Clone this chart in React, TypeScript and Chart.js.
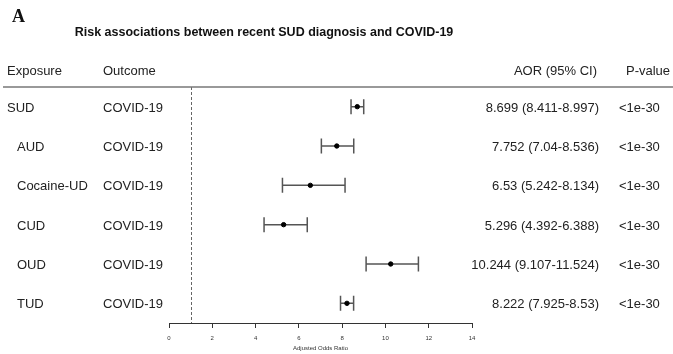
import React, { useEffect, useRef } from 'react';
import { Chart, registerables } from 'chart.js';

Chart.register(...registerables);

const exposures = ['SUD', 'AUD', 'Cocaine-UD', 'CUD', 'OUD', 'TUD'];
const indented = [false, true, true, true, true, true];
const outcomes = ['COVID-19', 'COVID-19', 'COVID-19', 'COVID-19', 'COVID-19', 'COVID-19'];
const aor = [8.699, 7.752, 6.53, 5.296, 10.244, 8.222];
const lower = [8.411, 7.04, 5.242, 4.392, 9.107, 7.925];
const upper = [8.997, 8.536, 8.134, 6.388, 11.524, 8.53];
const aorText = [
  '8.699 (8.411-8.997)',
  '7.752 (7.04-8.536)',
  '6.53 (5.242-8.134)',
  '5.296 (4.392-6.388)',
  '10.244 (9.107-11.524)',
  '8.222 (7.925-8.53)',
];
const pValues = ['<1e-30', '<1e-30', '<1e-30', '<1e-30', '<1e-30', '<1e-30'];
const xMin = 0;
const xMax = 14;
const xStep = 2;
const nullValue = 1;
const chartTitle = 'Risk associations between recent SUD diagnosis and COVID-19';
const panelLabel = 'A';
const headers = { exposure: 'Exposure', outcome: 'Outcome', aor: 'AOR (95% CI)', p: 'P-value' };
const xTitle = 'Adjusted Odds Ratio';

const FONT = '"Liberation Sans", Arial, Helvetica, sans-serif';

const forestPlugin = {
  id: 'forest',
  beforeDatasetsDraw(chart: any) {
    const { ctx, chartArea, scales } = chart;
    const xs = scales.x;
    const ys = scales.y;
    ctx.save();
    const nx = Math.round(xs.getPixelForValue(nullValue)) + 0.5;
    ctx.strokeStyle = '#666';
    ctx.lineWidth = 1;
    ctx.setLineDash([3, 2]);
    ctx.beginPath();
    ctx.moveTo(nx, chartArea.top);
    ctx.lineTo(nx, chartArea.bottom);
    ctx.stroke();
    ctx.setLineDash([]);
    ctx.strokeStyle = '#555';
    ctx.lineWidth = 1.5;
    for (let i = 0; i < aor.length; i++) {
      const y = ys.getPixelForValue(i + 1);
      const x1 = xs.getPixelForValue(lower[i]);
      const x2 = xs.getPixelForValue(upper[i]);
      ctx.beginPath();
      ctx.moveTo(x1, y);
      ctx.lineTo(x2, y);
      ctx.moveTo(x1, y - 7.5);
      ctx.lineTo(x1, y + 7.5);
      ctx.moveTo(x2, y - 7.5);
      ctx.lineTo(x2, y + 7.5);
      ctx.stroke();
    }
    ctx.restore();
  },
  afterDraw(chart: any) {
    const { ctx, chartArea, scales } = chart;
    const ys = scales.y;
    ctx.save();
    ctx.fillStyle = '#111';
    ctx.font = 'bold 18px "Liberation Serif", "Times New Roman", serif';
    ctx.textBaseline = 'middle';
    ctx.textAlign = 'left';
    ctx.fillText(panelLabel, 12, 17);
    ctx.font = `bold 12.5px ${FONT}`;
    ctx.textAlign = 'center';
    ctx.fillText(chartTitle, 264, 33);
    ctx.font = `13px ${FONT}`;
    ctx.fillStyle = '#222';
    ctx.textAlign = 'left';
    const hy = 71;
    ctx.fillText(headers.exposure, 7, hy);
    ctx.fillText(headers.outcome, 103, hy);
    ctx.fillText(headers.p, 626, hy);
    ctx.textAlign = 'right';
    ctx.fillText(headers.aor, 597, hy);
    ctx.strokeStyle = '#777';
    ctx.lineWidth = 1.5;
    ctx.beginPath();
    ctx.moveTo(3, chartArea.top);
    ctx.lineTo(673, chartArea.top);
    ctx.stroke();
    for (let i = 0; i < exposures.length; i++) {
      const y = ys.getPixelForValue(i + 1) + 1.5;
      ctx.textAlign = 'left';
      ctx.fillText(exposures[i], indented[i] ? 17 : 7, y);
      ctx.fillText(outcomes[i], 103, y);
      ctx.fillText(pValues[i], 619, y);
      ctx.textAlign = 'right';
      ctx.fillText(aorText[i], 599, y);
    }
    ctx.restore();
  },
};

export default function App() {
  const ref = useRef<HTMLCanvasElement | null>(null);
  useEffect(() => {
    if (!ref.current) return;
    const chart = new Chart(ref.current, {
      type: 'scatter',
      data: {
        datasets: [
          {
            data: aor.map((v, i) => ({ x: v, y: i + 1 })),
            backgroundColor: '#000',
            borderColor: '#000',
            pointRadius: 2.2,
            pointHoverRadius: 2.2,
          },
        ],
      },
      options: {
        animation: false,
        responsive: false,
        devicePixelRatio: 1,
        layout: { padding: { left: 169, right: 201, top: 87, bottom: 0 } },
        plugins: { legend: { display: false }, tooltip: { enabled: false }, title: { display: false } },
        scales: {
          x: {
            type: 'linear',
            min: xMin,
            max: xMax,
            afterFit: (s: any) => {
              s.height = 31;
            },
            ticks: {
              stepSize: xStep,
              font: { size: 6, family: FONT },
              color: '#333',
              padding: 7,
              maxRotation: 0,
            },
            grid: { drawOnChartArea: false, drawTicks: true, tickLength: 5, color: '#333' },
            border: { color: '#333', width: 1 },
            title: {
              display: true,
              text: xTitle,
              font: { size: 6, family: FONT },
              color: '#333',
              padding: { top: 0, bottom: 2 },
            },
          },
          y: { type: 'linear', min: 0.5, max: 6.5, reverse: true, display: false },
        },
      },
      plugins: [forestPlugin],
    });
    return () => chart.destroy();
  }, []);
  return (
    <div style={{ position: 'absolute', left: 0, top: 0, width: 673, height: 354, background: '#fff' }}>
      <canvas ref={ref} width={673} height={354} />
    </div>
  );
}
